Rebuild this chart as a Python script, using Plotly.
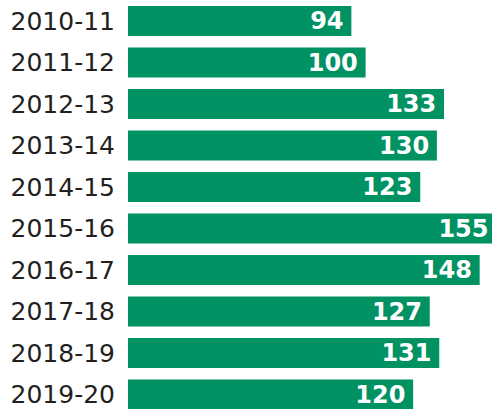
import plotly.graph_objects as go

years = ["2010-11", "2011-12", "2012-13", "2013-14", "2014-15",
         "2015-16", "2016-17", "2017-18", "2018-19", "2019-20"]
values = [94, 100, 133, 130, 123, 155, 148, 127, 131, 120]

GREEN = "#009263"
DARK = "#231F20"

fig = go.Figure(go.Bar(
    y=years,
    x=values,
    orientation="h",
    marker=dict(color=GREEN, line=dict(width=0)),
    text=[f"{v}\u2009" for v in values],
    textposition="inside",
    insidetextanchor="end",
    textangle=0,
    constraintext="none",
    textfont=dict(family="DejaVu Sans", size=24, color="white", weight="bold"),
    cliponaxis=False,
    hoverinfo="skip",
))

fig.update_layout(
    width=497,
    height=409,
    margin=dict(l=128, r=0, t=0, b=0),
    paper_bgcolor="white",
    plot_bgcolor="white",
    bargap=0.277,
    showlegend=False,
    xaxis=dict(range=[0, 155.3], visible=False, fixedrange=True),
    yaxis=dict(
        type="category",
        categoryorder="array",
        categoryarray=years,
        range=[9.349, -0.506],
        showgrid=False,
        zeroline=False,
        showline=False,
        ticks="",
        ticklabelstandoff=12,
        tickfont=dict(family="DejaVu Sans", size=25, color=DARK),
        fixedrange=True,
    ),
)

fig.write_html(
    "out.html",
    config={"displayModeBar": False, "staticPlot": True},
    post_script="document.body.style.margin='0';document.body.style.overflow='hidden';",
)
